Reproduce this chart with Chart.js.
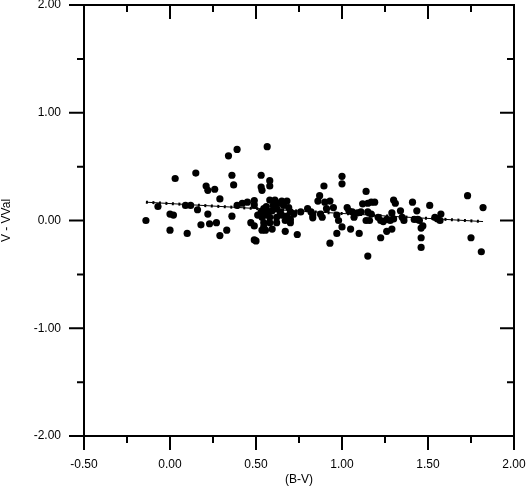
<!DOCTYPE html>
<html>
<head>
<meta charset="utf-8">
<script src="https://cdn.jsdelivr.net/npm/chart.js@4/dist/chart.umd.min.js"></script>
<style>
    html, body { margin: 0; padding: 0; background: #fff; }
    canvas { display: block; }
</style>
</head>
<body>
<canvas id="chartBV" width="527" height="490"></canvas>
<script>
/* =============================
   DỮ LIỆU
============================= */

// (B-V) của từng sao
const bvVals = [
    -0.14, -0.07, 0.00, 0.02, 0.03, 0.00, 0.09, 0.12, 0.10, 0.15,
    0.16, 0.18, 0.21, 0.22, 0.22, 0.23, 0.26, 0.27, 0.29, 0.29,
    0.33, 0.34, 0.36, 0.36, 0.37, 0.39, 0.39, 0.42, 0.45, 0.47,
    0.49, 0.49, 0.49, 0.49, 0.50, 0.51, 0.53, 0.53, 0.535, 0.53,
    0.535, 0.535, 0.545, 0.545, 0.545, 0.555, 0.565, 0.565, 0.58, 0.58,
    0.58, 0.58, 0.58, 0.594, 0.594, 0.61, 0.62, 0.62, 0.62, 0.65,
    0.65, 0.66, 0.67, 0.67, 0.68, 0.69, 0.70, 0.70, 0.70, 0.72,
    0.74, 0.76, 0.80, 0.82, 0.83, 0.83, 0.86, 0.87, 0.875, 0.885,
    0.895, 0.90, 0.91, 0.93, 0.93, 0.95, 0.97, 0.97, 0.98, 1.00,
    1.00, 1.00, 1.03, 1.04, 1.05, 1.06, 1.07, 1.09, 1.10, 1.11,
    1.12, 1.14, 1.14, 1.15, 1.15, 1.15, 1.16, 1.17, 1.17, 1.19,
    1.21, 1.225, 1.225, 1.24, 1.26, 1.26, 1.29, 1.29, 1.28, 1.30,
    1.30, 1.31, 1.34, 1.35, 1.36, 1.41, 1.42, 1.435, 1.44, 1.45,
    1.46, 1.46, 1.46, 1.47, 1.51, 1.54, 1.555, 1.57, 1.575, 1.73,
    1.75, 1.81, 1.82, 0.56, 0.60, 0.64, 0.55, 0.63, 0.68
];

// V - VVal tương ứng
const dvVals = [
    0.00, 0.13, 0.06, 0.05, 0.39, -0.09, 0.14, 0.14, -0.12, 0.44,
    0.10, -0.04, 0.32, 0.28, 0.06, -0.03, 0.29, -0.02, 0.20, -0.14,
    -0.09, 0.60, 0.42, 0.04, 0.33, 0.66, 0.14, 0.16, 0.17, -0.02,
    0.185, 0.145, -0.05, -0.18, -0.19, 0.05, 0.42, 0.31, 0.28, 0.08,
    0.03, -0.09, 0.11, -0.02, -0.06, -0.09, 0.685, 0.08, 0.37, 0.32,
    0.19, 0.03, -0.02, 0.09, -0.08, 0.19, 0.11, 0.03, -0.02, 0.18,
    0.05, 0.14, 0.00, -0.10, 0.18, 0.12, 0.08, 0.01, -0.02, 0.06,
    -0.13, 0.08, 0.11, 0.08, 0.05, 0.025, 0.18, 0.23, 0.06, 0.03,
    0.32, 0.17, 0.11, 0.18, -0.21, 0.12, 0.05, -0.12, 0.00, 0.41,
    0.34, -0.06, 0.12, 0.09, -0.08, 0.08, 0.03, 0.07, -0.12, 0.08,
    0.155, 0.27, 0.00, 0.16, 0.08, -0.33, 0.00, 0.17, 0.06, 0.17,
    0.03, 0.00, -0.16, -0.01, 0.01, -0.10, 0.07, -0.08, 0.00, 0.19,
    0.015, 0.16, 0.09, 0.03, 0.00, 0.17, 0.01, 0.09, 0.01, 0.00,
    -0.07, -0.16, -0.25, -0.05, 0.14, 0.03, 0.015, 0.00, 0.06, 0.23,
    -0.16, -0.29, 0.12, 0.13, 0.14, 0.08, 0.05, 0.16, 0.04
];

// đường hồi quy
const fitX = [-0.14, 1.82];
const fitY = [0.17, -0.01];

// vạch chia trục
const xTicks = [-0.5, 0, 0.5, 1.0, 1.5, 2.0];
const xTickLabels = ["-0.50", "0.00", "0.50", "1.00", "1.50", "2.00"];
const xMinor = [-0.25, 0.25, 0.75, 1.25, 1.75];
const yTicks = [-2, -1, 0, 1, 2];
const yTickLabels = ["-2.00", "-1.00", "0.00", "1.00", "2.00"];
const yMinor = [-1.5, -0.5, 0.5, 1.5];

const xTitle = "(B-V)";
const yTitle = "V - VVal";

/* =============================
   KHUNG + VẠCH CHIA (vẽ tay)
============================= */

const FONT = "12px 'Liberation Sans', Arial, sans-serif";

const framePlugin = {
    id: "frame",
    beforeDatasetsDraw(chart) {
        const ctx = chart.ctx;
        const a = chart.chartArea;
        const sx = chart.scales.x;
        const sy = chart.scales.y;

        ctx.save();
        ctx.strokeStyle = "#000";
        ctx.lineWidth = 2;
        ctx.strokeRect(a.left, a.top, a.right - a.left, a.bottom - a.top);

        ctx.beginPath();
        // trục x: dưới (ra ngoài) và trên (vào trong)
        xTicks.forEach(v => {
            const p = sx.getPixelForValue(v);
            ctx.moveTo(p, a.bottom); ctx.lineTo(p, a.bottom + 14);
            ctx.moveTo(p, a.top); ctx.lineTo(p, a.top + 14);
        });
        xMinor.forEach(v => {
            const p = sx.getPixelForValue(v);
            ctx.moveTo(p, a.bottom); ctx.lineTo(p, a.bottom + 7);
            ctx.moveTo(p, a.top); ctx.lineTo(p, a.top + 7);
        });
        // trục y: trái (ra ngoài) và phải (vào trong)
        yTicks.forEach(v => {
            const p = sy.getPixelForValue(v);
            ctx.moveTo(a.left, p); ctx.lineTo(a.left - 15, p);
            ctx.moveTo(a.right, p); ctx.lineTo(a.right - 14, p);
        });
        yMinor.forEach(v => {
            const p = sy.getPixelForValue(v);
            ctx.moveTo(a.left, p); ctx.lineTo(a.left - 7, p);
            ctx.moveTo(a.right, p); ctx.lineTo(a.right - 7, p);
        });
        ctx.stroke();

        ctx.fillStyle = "#000";
        ctx.font = FONT;
        ctx.textBaseline = "middle";

        ctx.textAlign = "center";
        xTicks.forEach((v, i) => {
            ctx.fillText(xTickLabels[i], sx.getPixelForValue(v), a.bottom + 29);
        });
        ctx.fillText(xTitle, (a.left + a.right) / 2, a.bottom + 44);

        ctx.textAlign = "right";
        yTicks.forEach((v, i) => {
            ctx.fillText(yTickLabels[i], a.left - 23, sy.getPixelForValue(v));
        });

        ctx.translate(7, (a.top + a.bottom) / 2);
        ctx.rotate(-Math.PI / 2);
        ctx.textAlign = "center";
        ctx.fillText(yTitle, 0, 0);
        ctx.restore();
    }
};

/* =============================
   BIỂU ĐỒ
============================= */

const pts = bvVals.map((x, i) => ({ x: x, y: dvVals[i] }));
const fitPts = fitX.map((x, i) => ({ x: x, y: fitY[i] }));

new Chart(document.getElementById("chartBV"), {
    type: "scatter",
    data: {
        datasets: [
            {
                data: pts,
                backgroundColor: "#000",
                borderWidth: 0,
                pointRadius: 3.6
            },
            {
                data: fitPts,
                showLine: true,
                borderColor: "#000",
                borderWidth: 1,
                pointRadius: 0
            },
            {
                data: fitPts,
                showLine: true,
                borderColor: "#000",
                borderWidth: 3,
                borderDash: [2, 4.5],
                pointRadius: 0
            }
        ]
    },
    options: {
        responsive: false,
        animation: false,
        events: [],
        layout: { padding: { left: 84, top: 5, right: 13, bottom: 54 } },
        plugins: { legend: { display: false }, tooltip: { enabled: false } },
        scales: {
            x: { type: "linear", min: -0.5, max: 2.0, display: false },
            y: { type: "linear", min: -2, max: 2, display: false }
        }
    },
    plugins: [framePlugin]
});
</script>
</body>
</html>
